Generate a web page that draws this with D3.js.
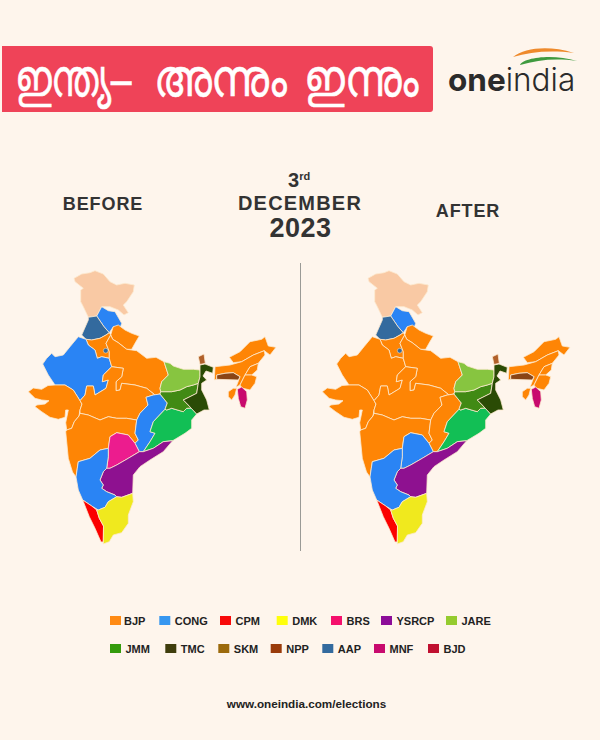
<!DOCTYPE html>
<html>
<head>
<meta charset="utf-8">
<script src="https://cdn.jsdelivr.net/npm/d3@7"></script>
<style>
  html, body { margin: 0; padding: 0; background: #fef5ec; }
  text { font-family: "Liberation Sans", Arial, sans-serif; font-weight: bold; fill: #333; }
</style>
</head>
<body>
<div id="chart-area"></div>
<script>
// parties in legend order
const parties = ["BJP", "CONG", "CPM", "DMK", "BRS", "YSRCP", "JARE", "JMM", "TMC", "SKM", "NPP", "AAP", "MNF", "BJD"];
const legendColors = ["#ff8a14", "#3797f0", "#f80a0a", "#ffff0c", "#f5106c", "#8c0c98", "#95cb2f", "#349b0c", "#3f3d0c", "#9c6a0c", "#9a3b0a", "#336a9e", "#c80a6e", "#c01030"];
// the map uses slightly different tints than its own legend
const mapColors = ["#fe8505", "#2a84f4", "#fb0000", "#f0e91e", "#ec1c8e", "#8e1190", "#87c540", "#418a14", "#2a4b05", "#b0602a", "#8a4415", "#336a9e", "#c80a6e", "#12bf55"];
const noGovColor = "#f9c9a4";

const stateNames = ["Jammu and Kashmir", "Himachal Pradesh", "Punjab", "Uttarakhand", "Haryana", "Rajasthan", "Uttar Pradesh", "Gujarat", "Madhya Pradesh", "Maharashtra", "Chhattisgarh", "Odisha", "Jharkhand", "Bihar", "West Bengal", "Sikkim", "Arunachal Pradesh", "Assam", "Meghalaya", "Nagaland", "Manipur", "Tripura", "Mizoram", "Telangana", "Andhra Pradesh", "Karnataka", "Kerala", "Tamil Nadu"];
const rulingBefore = [null, "CONG", "AAP", "BJP", "BJP", "CONG", "BJP", "BJP", "BJP", "BJP", "CONG", "BJD", "JMM", "JARE", "TMC", "SKM", "BJP", "BJP", "NPP", "BJP", "BJP", "BJP", "MNF", "BRS", "YSRCP", "CONG", "CPM", "DMK"];
const rulingAfter = [null, "CONG", "AAP", "BJP", "BJP", "BJP", "BJP", "BJP", "BJP", "BJP", "BJP", "BJD", "JMM", "JARE", "TMC", "SKM", "BJP", "BJP", "NPP", "BJP", "BJP", "BJP", "MNF", "CONG", "YSRCP", "CONG", "CPM", "DMK"];

// outlines, in map units
const stateOutlines = [
  [[74,278.3],[81.7,274],[90,272.7],[95,270.7],[103.3,274],[110,281.7],[116.7,285],[125,283.3],[134.3,285],[133.3,291.7],[126.7,301.7],[123.3,305],[128.3,312.7],[124,315],[118.3,310],[110,306.7],[101.7,306.7],[96.7,316],[88.3,317.3],[83.3,306.7],[80.7,301.7],[80.7,290],[83.3,288.3],[75,281.7]],
  [[96.7,316],[101.7,306.7],[108.3,310.7],[115,311.7],[121.7,323.3],[120,328.3],[113.3,326.7],[109.3,332.7],[104,326.7]],
  [[96.7,316],[104,326.7],[109.3,332.7],[106,335],[100,338.3],[91.7,340],[86,339.3],[81.7,335],[88.3,320],[88.3,317.3]],
  [[112.7,328.3],[113.3,326.7],[118.3,325],[125,330],[131.7,333.3],[139.3,336],[135,343.3],[131.7,349.3],[126.7,349.3],[118.3,342.7],[112.7,339.3],[110.7,335]],
  [[86,339.3],[91.7,340],[100,338.3],[106,335],[109.3,332.7],[110.7,335],[106,343.3],[109.3,351.7],[109.3,358.3],[101.7,356.7],[97.3,358.3],[95,350],[88.3,345]],
  [[78.3,336.7],[86,339.3],[88.3,345],[95,350],[97.3,358.3],[101.7,356.7],[109.3,358.3],[111.7,366.7],[103.3,375],[102.3,381.7],[108.3,380],[106,388.3],[95,395],[93.3,386],[86.7,386],[85,395],[80,400.7],[73.3,390],[65,385],[55,385],[48.3,375],[42.7,364],[46.7,358.3],[51.7,353.3],[55,356.7],[63.3,355],[70,346.7]],
  [[110.7,335],[112.7,339.3],[118.3,342.7],[126.7,349.3],[136.7,350.7],[146.7,358.3],[156,357.3],[164,361.7],[168.3,375],[161.7,381.7],[160,388.3],[160.7,391.7],[160,394],[155,395],[146.7,388.3],[135,385],[121.7,383.3],[120,390],[116,390.7],[116,381.7],[121.7,376.7],[123.3,368.3],[111.7,366.7],[109.3,358.3],[109.3,351.7],[106,343.3]],
  [[28.3,391.7],[33.3,388],[41.7,389.3],[48,385.5],[55,385],[65,385],[73.3,390],[80,400.7],[82,404],[80,410],[79,416],[74.3,421.7],[71.7,428.3],[66.7,430],[65.7,422.7],[68.3,410],[65.7,410],[65,417.3],[58.3,419.3],[50,417.3],[41.7,411.7],[35,406.7],[36.7,405],[45,404],[49,400.7],[41.7,400],[35,398.3],[31.7,395]],
  [[80,400.7],[85,395],[86.7,386],[93.3,386],[95,395],[106,388.3],[108.3,380],[102.3,381.7],[103.3,375],[111.7,366.7],[123.3,368.3],[121.7,376.7],[116,381.7],[116,390.7],[120,390],[121.7,383.3],[135,385],[146.7,388.3],[155,395],[153.3,395],[146,397.3],[148,405],[140,413.3],[136.7,420],[126.7,418.3],[116.7,418.3],[108.3,416.7],[100,420],[88.3,415],[80,413.3],[80,410],[82,404]],
  [[80,413.3],[88.3,415],[100,420],[108.3,416.7],[116.7,418.3],[126.7,418.3],[136.7,420],[135,433.3],[138.3,440],[135,443.3],[128.3,435],[116.7,432.7],[110,436.7],[108.3,448.3],[100,450],[90,458.3],[78.3,461.7],[77.3,468.3],[76,477],[72.5,472],[68.3,458.3],[65.7,431.7],[66.7,430],[71.7,428.3],[74.3,421.7],[79,416]],
  [[146,397.3],[153.3,395],[160,394],[167.3,403],[165,409.3],[153.3,421.7],[150,431.7],[155,433.3],[150,441.7],[143.3,451.7],[139.3,451.7],[135,443.3],[138.3,440],[135,433.3],[136.7,420],[140,413.3],[148,405]],
  [[165,409.3],[166.7,410],[171.7,408.3],[183.3,411.7],[186.7,408.3],[191,408],[196.7,414],[191.7,420],[191.7,428.3],[185,433.3],[172.7,440.7],[163.3,441.7],[153.3,448.3],[143.3,451.7],[150,441.7],[155,433.3],[150,431.7],[153.3,421.7]],
  [[160.7,391.7],[171.7,391.7],[180,390],[186.7,386.7],[193.3,385],[198.3,383.3],[196.7,393.3],[183.3,400],[186.7,403.3],[191,408],[186.7,408.3],[183.3,411.7],[171.7,408.3],[166.7,410],[165,409.3],[167.3,403],[160,394]],
  [[164,361.7],[170,363.3],[173.3,366],[183.3,369.3],[193.3,369.3],[200,370],[200,376.7],[198.3,383.3],[193.3,385],[186.7,386.7],[180,390],[171.7,391.7],[160.7,391.7],[160,388.3],[161.7,381.7],[168.3,375]],
  [[200,365],[205,364],[213.3,367.3],[212.7,373.3],[206,371],[203,376],[206.7,380],[201.7,383.3],[201.7,390],[206.7,400],[209.3,410],[204,410],[196.7,414],[191,408],[186.7,403.3],[183.3,400],[196.7,393.3],[198.3,383.3],[200,376.7],[200,370]],
  [[198.3,356.7],[204,354],[205.3,363.3],[200,364.5]],
  [[229.3,357.3],[240,351.7],[250,341.7],[261.7,339.3],[265,336.7],[268.3,346],[276,347.3],[270,355],[264.3,350.7],[253.3,355],[241.7,361.7],[233.3,362.7]],
  [[214.3,380],[215,366.7],[230,365],[241.7,361.7],[253.3,355],[264.3,350.7],[265,355],[258.3,363.3],[250,366.7],[245,375],[240,385],[236,387.3],[240,376.7],[233.3,372.7],[225,373.3],[216.7,375],[216.7,379.3]],
  [[216.7,375],[225,373.3],[233.3,372.7],[240,376.7],[238.3,380],[216.7,379.3]],
  [[258.3,363.3],[257.3,370],[251.7,375],[245,375],[250,366.7]],
  [[245,375],[251.7,375],[256.7,376.7],[255,383.3],[250,390],[241.7,388],[240,385]],
  [[228.3,391.7],[233.3,388.3],[236.7,388.3],[235,395],[231.7,400],[228.3,396.7]],
  [[237.3,389.3],[241.7,387],[246.7,391.7],[247.3,400],[245,408.3],[240.7,406.7],[238.3,398.3]],
  [[116.7,432.7],[128.3,435],[135,443.3],[139.3,451.7],[128.3,458.3],[116.7,465],[110,468.3],[106.7,468.3],[108.3,456.7],[108.3,448.3],[110,436.7]],
  [[139.3,451.7],[143.3,451.7],[153.3,448.3],[163.3,441.7],[172.7,440.7],[163.3,451.7],[150,460],[140,466.7],[133.3,475],[132.7,493.3],[121.7,497.3],[116.7,496.7],[115,495],[106.7,491.7],[101.7,488.3],[103.3,485],[100,480],[103.3,471.7],[106.7,468.3],[110,468.3],[116.7,465],[128.3,458.3]],
  [[78.3,461.7],[90,458.3],[100,450],[108.3,448.3],[108.3,456.7],[106.7,468.3],[103.3,471.7],[100,480],[103.3,485],[101.7,488.3],[106.7,491.7],[115,495],[116.7,496.7],[108.3,501.7],[105,507.3],[98.3,510],[91.7,506],[82.7,500],[78.3,490],[76,477],[77.3,468.3]],
  [[82.7,500],[91.7,506],[96.7,510],[99.3,518.3],[103.5,526],[103.3,542],[101,542],[95,528.3],[89.3,516.7]],
  [[96.7,510],[98.3,510],[105,507.3],[108.3,501.7],[116.7,496.7],[121.7,497.3],[132.7,493.3],[133.3,501.7],[128.3,515],[128.3,523.3],[121.7,532.7],[113.3,535],[109.3,541.7],[103.3,544],[103.3,542],[103.5,526],[99.3,518.3]]
];
// Delhi is only a dot on this map
const delhi = { point: [105.7, 350.7], party: "AAP" };

const titleWords = ["ഇന്ത്യ–", "അന്നും", "ഇന്നും"];
const titleWordStart = [15, 154, 304];
const titleWordWidth = [118, 134, 115];

const width = 600, height = 740;
const mapOffsets = { before: 0, after: 294 };

const svg = d3.select("#chart-area")
  .append("svg")
    .attr("width", width)
    .attr("height", height)
    .style("display", "block");

const partyMapColor = d3.scaleOrdinal().domain(parties).range(mapColors).unknown(noGovColor);
const partyLegendColor = d3.scaleOrdinal().domain(parties).range(legendColors);

// Header
svg.append("path")
  .attr("d", "M2,46H430a3,3 0 0 1 3,3V109a3,3 0 0 1 -3,3H2Z")
  .attr("fill", "#ef4358");

// the installed Malayalam face is wider than the banner lettering, so squeeze each word
titleWords.forEach((word, i) => {
  let t = svg.append("text")
    .attr("font-size", "52px")
    .style("font-weight", "normal")
    .style("fill", "#fff")
    .style("stroke", "#fff")
    .style("stroke-width", 0.6)
    .text(word);
  let sx = titleWordWidth[i] / t.node().getComputedTextLength();
  t.attr("transform", "translate(" + titleWordStart[i] + ",96) scale(" + sx + ",1)");
});

// Logo
svg.append("path")
  .attr("d", "M513,57C525,48 548,45 574,53C550,50 530,52 513,57Z")
  .attr("fill", "#ee8a2c");
svg.append("path")
  .attr("d", "M520,65C522,58 552,53 577,61C555,58 538,60 520,65Z")
  .attr("fill", "#3f9a3f");

const logo = svg.append("text")
  .attr("x", 448)
  .attr("y", 91)
  .style("font-family", "Inter, 'Liberation Sans', sans-serif")
  .attr("font-size", "31.5px")
  .style("fill", "#2b2b2b");
logo.append("tspan").style("font-weight", 700).text("one");
logo.append("tspan").style("font-weight", 300).text("india");

// Headings
svg.append("text").attr("x", 103).attr("y", 210).attr("text-anchor", "middle")
  .attr("font-size", "18px").attr("letter-spacing", "0.9px").text("BEFORE");
svg.append("text").attr("x", 468).attr("y", 217).attr("text-anchor", "middle")
  .attr("font-size", "18px").attr("letter-spacing", "0.9px").text("AFTER");

const dateLine = svg.append("text").attr("x", 288).attr("y", 187).attr("font-size", "20px");
dateLine.append("tspan").text("3");
dateLine.append("tspan").attr("font-size", "11px").attr("dy", "-7").text("rd");
svg.append("text").attr("x", 300).attr("y", 210).attr("text-anchor", "middle")
  .attr("font-size", "20px").attr("letter-spacing", "1.2px").text("DECEMBER");
svg.append("text").attr("x", 300.5).attr("y", 237).attr("text-anchor", "middle")
  .attr("font-size", "27px").attr("letter-spacing", "0.5px").text("2023");

// Divider
svg.append("line")
  .attr("x1", 300.5).attr("x2", 300.5)
  .attr("y1", 263).attr("y2", 551)
  .attr("stroke", "#9a9a96")
  .attr("stroke-width", 1);

// Maps - GeoJSON rings have to repeat their first point
const stateFeatures = stateNames.map((name, i) => ({
  type: "Feature",
  properties: { name: name, before: rulingBefore[i], after: rulingAfter[i] },
  geometry: { type: "Polygon", coordinates: [stateOutlines[i].concat([stateOutlines[i][0]])] }
}));

function drawMap(key) {
  const projection = d3.geoIdentity().translate([mapOffsets[key], 0]);
  const path = d3.geoPath(projection);
  const g = svg.append("g").attr("class", "map-" + key);

  g.selectAll("path")
    .data(stateFeatures)
    .enter()
    .append("path")
    .attr("d", path)
    .attr("fill", d => partyMapColor(d.properties[key]))
    .attr("stroke", "#fdeacf")
    .attr("stroke-width", 0.8)
    .attr("stroke-linejoin", "round");

  const dot = projection(delhi.point);
  g.append("circle")
    .attr("cx", dot[0])
    .attr("cy", dot[1])
    .attr("r", 2.4)
    .attr("fill", partyMapColor(delhi.party))
    .attr("stroke", "#fdeacf")
    .attr("stroke-width", 0.5);
}
drawMap("before");
drawMap("after");

// Legend, two hand-spaced rows like the original
const legendRows = [parties.slice(0, 7), parties.slice(7)];
const legendSwatchX = [[110, 159.3, 220, 276.7, 331, 381, 446], [110, 165.3, 218.3, 270.7, 322.3, 374, 428]];
const legendRowY = [616, 644];

legendRows.forEach((row, r) => {
  const legendRow = svg.append("g")
    .attr("class", "legend")
    .attr("transform", "translate(0," + legendRowY[r] + ")");
  row.forEach((party, i) => {
    legendRow.append("rect")
      .attr("x", legendSwatchX[r][i])
      .attr("width", 11)
      .attr("height", 9)
      .attr("fill", partyLegendColor(party));
    legendRow.append("text")
      .attr("x", legendSwatchX[r][i] + (i === 0 && r === 0 ? 14 : 15.5))
      .attr("y", 9)
      .attr("font-size", "11px")
      .style("fill", "#222")
      .text(party);
  });
});

// Footer
svg.append("text")
  .attr("x", 306.5)
  .attr("y", 708)
  .attr("text-anchor", "middle")
  .attr("font-size", "11.7px")
  .style("fill", "#222")
  .text("www.oneindia.com/elections");
</script>
</body>
</html>
